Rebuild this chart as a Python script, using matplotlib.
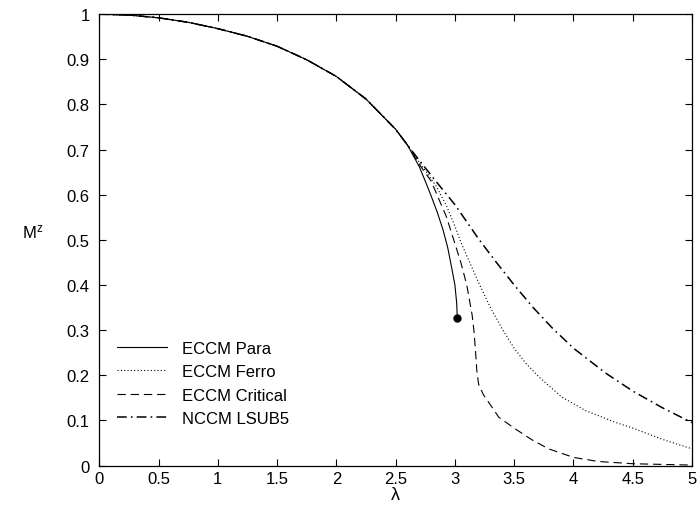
import numpy as np
import matplotlib
matplotlib.use('agg')
import matplotlib.pyplot as plt

plt.rcParams['font.family'] = ['Liberation Sans', 'DejaVu Sans']
plt.rcParams['mathtext.fontset'] = 'custom'
plt.rcParams['mathtext.rm'] = 'Liberation Sans'
plt.rcParams['mathtext.it'] = 'Liberation Sans'
plt.rcParams['lines.scale_dashes'] = False

# shared part of all curves (small lambda)
lam_common = [0, 0.25, 0.5, 0.75, 1.0, 1.25, 1.5, 1.75, 2.0, 2.25, 2.5, 2.6]
m_common = [1.0, 0.998, 0.992, 0.982, 0.968, 0.951, 0.929, 0.899, 0.862, 0.812, 0.745, 0.710]

lam_para = [2.7, 2.75, 2.8, 2.85, 2.9, 2.94, 2.97, 3.0, 3.015, 3.02]
m_para = [0.662, 0.630, 0.597, 0.562, 0.522, 0.482, 0.442, 0.400, 0.360, 0.327]

lam_ferro = [2.7, 2.84, 2.93, 3.0, 3.05, 3.1, 3.2, 3.3, 3.4, 3.5, 3.6, 3.71,
             3.9, 4.1, 4.35, 4.5, 4.75, 5.0]
m_ferro = [0.672, 0.62, 0.575, 0.53, 0.495, 0.465, 0.405, 0.35, 0.302, 0.26, 0.226, 0.196,
           0.152, 0.122, 0.096, 0.083, 0.058, 0.037]

lam_crit = [2.7, 2.8, 2.93, 2.99, 3.05, 3.1, 3.145, 3.16, 3.173, 3.185, 3.2, 3.24,
            3.29, 3.37, 3.51, 3.65, 3.79, 4.0, 4.21, 4.5, 5.0]
m_crit = [0.667, 0.630, 0.55, 0.50, 0.45, 0.40, 0.334, 0.30, 0.257, 0.21, 0.18, 0.157,
          0.138, 0.107, 0.081, 0.057, 0.037, 0.018, 0.009, 0.004, 0.001]

lam_nccm = [2.7, 2.87, 3.0, 3.1, 3.2, 3.35, 3.5, 3.66, 3.82, 4.0, 4.27, 4.5,
            4.75, 5.0]
m_nccm = [0.676, 0.62, 0.578, 0.54, 0.502, 0.45, 0.40, 0.35, 0.305, 0.26, 0.205, 0.165,
          0.128, 0.095]

# end point of the para solution
lam_end = [3.02]
m_end = [0.327]

xticks = [0, 0.5, 1, 1.5, 2, 2.5, 3, 3.5, 4, 4.5, 5]
yticks = [0, 0.1, 0.2, 0.3, 0.4, 0.5, 0.6, 0.7, 0.8, 0.9, 1]

fig = plt.figure(figsize=(6.99, 5.06), dpi=100)
ax = fig.add_axes([0.142, 0.078, 0.848, 0.892])

ax.plot(lam_common + lam_para, m_common + m_para, color='black', lw=0.8,
        label='ECCM Para')
ax.plot(lam_common + lam_ferro, m_common + m_ferro, color='black', lw=0.8,
        dashes=(0.8, 1.6), label='ECCM Ferro')
ax.plot(lam_common + lam_crit, m_common + m_crit, color='black', lw=0.8,
        dashes=(6, 3.5), label='ECCM Critical')
ax.plot(lam_common + lam_nccm, m_common + m_nccm, color='black', lw=1.1,
        dashes=(7, 3, 1.2, 3), label='NCCM LSUB5')
ax.plot(lam_end, m_end, 'o', color='black', ms=5)

ax.set_xlim(0, 5)
ax.set_ylim(0, 1)
ax.set_xticks(xticks)
ax.set_yticks(yticks)
ax.set_xticklabels(['%g' % t for t in xticks])
ax.set_yticklabels(['%g' % t for t in yticks])
ax.tick_params(direction='in', top=True, right=True, length=5, width=0.8,
               labelsize=12, pad=7)
ax.tick_params(axis='x', pad=4)
for s in ax.spines.values():
    s.set_linewidth(0.9)

ax.set_xlabel('λ', fontsize=13, labelpad=0)
ax.set_ylabel(r'$\mathrm{M}^\mathrm{z}$', fontsize=12, rotation=0)
ax.yaxis.set_label_coords(-0.112, 0.5)

ax.legend(loc='center left', bbox_to_anchor=(0.03, 0.182), frameon=False,
          fontsize=12, handlelength=3.0, handletextpad=0.9, labelspacing=0.5,
          borderaxespad=0, borderpad=0)

fig.savefig('out.png', dpi=100)
